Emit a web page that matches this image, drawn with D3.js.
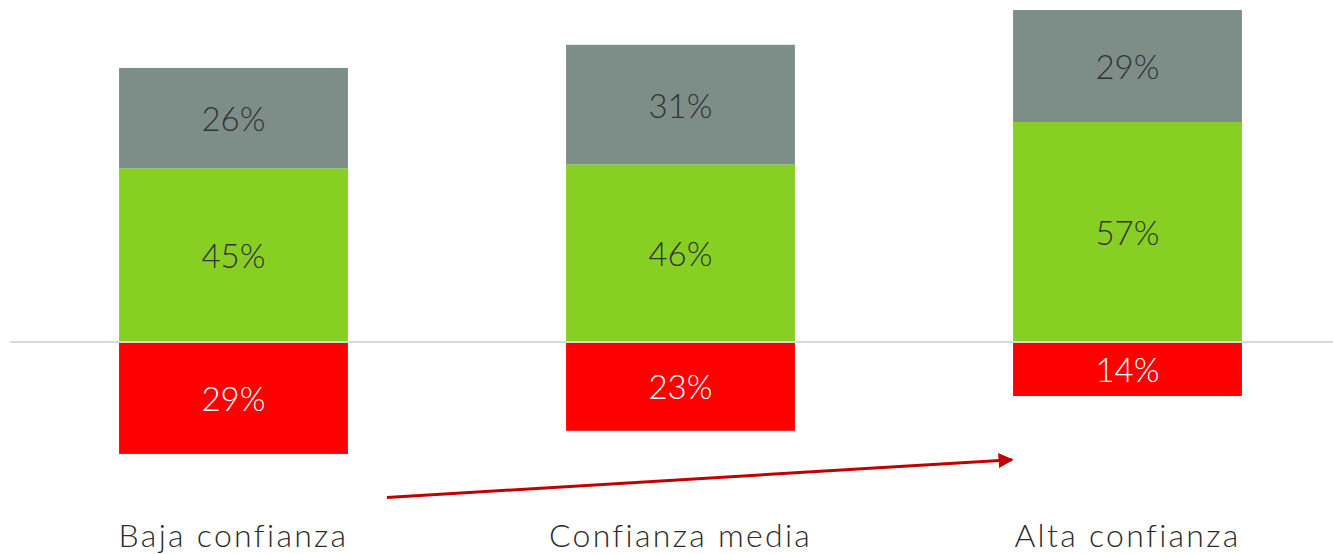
<!DOCTYPE html>
<html>
<head>
<script src="https://cdn.jsdelivr.net/npm/d3@7"></script>
  <meta charset="utf-8">
  <title>Confianza</title>
  <style>
    html, body { margin: 0; padding: 0; background: #fff; }
    svg { display: block; font-family: 'Lato', 'Open Sans', sans-serif; }
  </style>
</head>
<body>
  <div id="chartArea"></div>
  <script>
  // data
  var categories = ['Baja confianza', 'Confianza media', 'Alta confianza'];
  var negativo = [29, 23, 14];   // red, below the line
  var positivo = [45, 46, 57];   // green
  var neutro = [26, 31, 29];     // gray, on top

  var W = 1333, H = 554;
  var colors = { neg: '#ff0000', pos: '#88cf24', neu: '#7d8e89' };

  var svg = d3.select('#chartArea')
    .append('svg')
    .attr('width', W)
    .attr('height', H);

  var x = d3.scaleBand()
    .domain(categories)
    .range([10, 1351])
    .paddingInner(0.488)
    .paddingOuter(0.244);

  var y = d3.scaleLinear()
    .domain([-40, 90])
    .range([342 + 40 * 3.86, 342 - 90 * 3.86]);

  // build segments
  var segs = [];
  categories.forEach(function(c, i) {
    segs.push({ cat: c, y0: -negativo[i], y1: 0, v: negativo[i], fill: colors.neg, text: '#fff' });
    segs.push({ cat: c, y0: 0, y1: positivo[i], v: positivo[i], fill: colors.pos, text: '#333' });
    segs.push({ cat: c, y0: positivo[i], y1: positivo[i] + neutro[i], v: neutro[i], fill: colors.neu, text: '#333' });
  });

  svg.selectAll('rect.seg')
    .data(segs)
    .enter()
    .append('rect')
    .attr('class', 'seg')
    .attr('x', function(d) { return x(d.cat); })
    .attr('y', function(d) { return y(d.y1); })
    .attr('width', x.bandwidth())
    .attr('height', function(d) { return y(d.y0) - y(d.y1); })
    .attr('fill', function(d) { return d.fill; });

  // zero line
  svg.append('line')
    .attr('x1', 10).attr('x2', W)
    .attr('y1', y(0)).attr('y2', y(0))
    .attr('stroke', '#d9d9d9')
    .attr('stroke-width', 2);

  svg.selectAll('text.val')
    .data(segs)
    .enter()
    .append('text')
    .attr('class', 'val')
    .attr('x', function(d) { return x(d.cat) + x.bandwidth() / 2; })
    .attr('y', function(d) { return (y(d.y0) + y(d.y1)) / 2 + 13; })
    .attr('text-anchor', 'middle')
    .attr('font-size', 33)
    .attr('font-weight', 300)
    .attr('fill', function(d) { return d.text; })
    .text(function(d) { return d.v + '%'; });

  // category labels
  svg.selectAll('text.cat')
    .data(categories)
    .enter()
    .append('text')
    .attr('class', 'cat')
    .attr('x', function(d) { return x(d) + x.bandwidth() / 2; })
    .attr('y', 547)
    .attr('text-anchor', 'middle')
    .attr('font-size', 32)
    .attr('font-weight', 300)
    .attr('letter-spacing', 2.3)
    .attr('fill', '#2b2b2b')
    .text(function(d) { return d; });

  // trend arrow
  svg.append('defs').append('marker')
    .attr('id', 'head')
    .attr('viewBox', '0 0 10 10')
    .attr('refX', 9).attr('refY', 5)
    .attr('markerWidth', 5).attr('markerHeight', 5)
    .attr('orient', 'auto')
    .append('path')
    .attr('d', 'M0,0L10,5L0,10Z')
    .attr('fill', '#c00000');

  svg.append('line')
    .attr('x1', x(categories[0]) + x.bandwidth() + 39)
    .attr('y1', y(-40.3))
    .attr('x2', x(categories[2]) - 1)
    .attr('y2', y(-30.5))
    .attr('stroke', '#c00000')
    .attr('stroke-width', 3)
    .attr('marker-end', 'url(#head)');
  </script>
</body>
</html>
